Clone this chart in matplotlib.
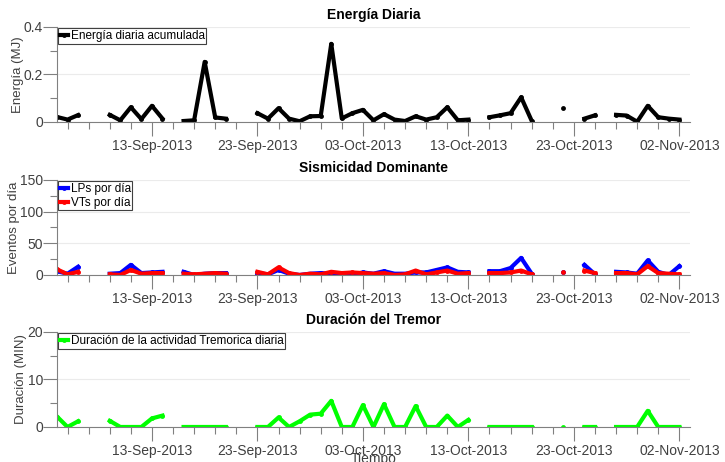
import numpy as np
import pandas as pd
import matplotlib
matplotlib.use("Agg")
import matplotlib.pyplot as plt
import matplotlib.dates as mdates

plt.rcParams["font.family"] = ["Liberation Sans", "DejaVu Sans"]

nan = np.nan

# ------------------------------------------------------------
# Datos diarios (04-Sep-2013 .. 02-Nov-2013)
# ------------------------------------------------------------
dias = pd.date_range("2013-09-04", "2013-11-02", freq="D")

energia = [
    0.021, 0.010, 0.029, nan, nan, 0.030, 0.007, 0.062, 0.012, 0.068,
    0.014, nan, 0.004, 0.007, 0.253, 0.019, 0.014, nan, nan, 0.037,
    0.014, 0.058, 0.014, 0.003, 0.024, 0.025, 0.329, 0.015, 0.037, 0.051,
    0.007, 0.033, 0.010, 0.004, 0.024, 0.010, 0.020, 0.062, 0.007, 0.010,
    nan, 0.020, 0.028, 0.037, 0.104, 0.005, nan, nan, 0.060, nan,
    0.014, 0.028, nan, 0.030, 0.027, 0.001, 0.068, 0.020, 0.014, 0.010,
]

lps = [
    6, 2, 13, nan, nan, 2, 3, 16, 3, 4,
    5, nan, 5, 0, 2, 3, 3, nan, nan, 3,
    1, 8, 2, 0, 2, 3, 2, 3, 0, 4,
    2, 6, 2, 2, 4, 4, 8, 12, 5, 4,
    nan, 6, 6, 11, 27, 2, nan, nan, 4, nan,
    16, 1, nan, 5, 4, 2, 23, 5, 0, 14,
]

vts = [
    9, 1, 5, nan, nan, 1, 0, 8, 2, 3,
    3, nan, 2, 1, 2, 3, 2, nan, nan, 5,
    1, 12, 3, 0, 2, 1, 5, 3, 4, 3,
    2, 3, 0, 1, 7, 1, 4, 7, 2, 3,
    nan, 3, 3, 4, 7, 1, nan, nan, 5, nan,
    7, 3, nan, 3, 3, 1, 14, 3, 2, 1,
]

duracion = [
    2.2, 0, 1.2, nan, nan, 1.3, 0, 0, 0, 1.8,
    2.4, nan, 0, 0, 0, 0, 0, nan, nan, 0,
    0, 2.0, 0, 1.2, 2.6, 2.8, 5.5, 0, 0, 4.6,
    0, 4.8, 0, 0, 4.4, 0, 0, 2.4, 0, 1.5,
    nan, 0, 0, 0, 0, 0, nan, nan, 0, nan,
    0, 0, nan, 0, 0, 0, 3.4, 0, 0, 0,
]

ticks_mayores = pd.date_range("2013-09-13", "2013-11-02", freq="10D")
ticks_menores = pd.date_range("2013-09-05", "2013-11-02", freq="2D")

GRIS = "#808080"
TXT = "#404040"

fig = plt.figure(figsize=(7.25, 4.62), dpi=100)

left, width, height = 0.0786, 0.873, 0.2056
ax1 = fig.add_axes([left, 0.736, width, height])
ax2 = fig.add_axes([left, 0.4048, width, height])
ax3 = fig.add_axes([left, 0.0758, width, height])

estilo = dict(linewidth=3, marker="o", markersize=3.5, markeredgewidth=0)

ax1.plot(dias, energia, color="black", label="Energía diaria acumulada", **estilo)
ax2.plot(dias, lps, color="blue", label="LPs por día", **estilo)
ax2.plot(dias, vts, color="red", label="VTs por día", **estilo)
ax3.plot(dias, duracion, color=(0, 1, 0), label="Duración de la actividad Tremorica diaria", **estilo)


def formato(ax, titulo, ylabel, ylim, yticks, yminor):
    ax.set_xlim(pd.Timestamp("2013-09-04"), pd.Timestamp("2013-11-03"))
    ax.set_ylim(*ylim)
    ax.set_yticks(yticks)
    ax.set_yticks(yminor, minor=True)
    ax.set_xticks(ticks_mayores)
    ax.set_xticks(ticks_menores, minor=True)
    ax.xaxis.set_major_formatter(mdates.DateFormatter("%d-%b-%Y"))
    ax.set_title(titulo, fontsize=10, fontweight="bold", pad=6)
    ax.set_ylabel(ylabel, fontsize=9.5, color=TXT, labelpad=0)
    for s in ["top", "right"]:
        ax.spines[s].set_visible(False)
    for s in ["left", "bottom"]:
        ax.spines[s].set_color(GRIS)
    ax.tick_params(which="major", length=10, width=0.8, color=GRIS,
                   labelcolor=TXT, labelsize=10, pad=2)
    ax.tick_params(axis="y", which="major", pad=0)
    ax.tick_params(which="minor", length=5, width=0.8, color=GRIS)
    ax.grid(True, axis="y", which="major", color="#ebebeb", linewidth=0.8)
    ax.set_axisbelow(True)
    leg = ax.legend(loc="upper left", fontsize=8.5, handlelength=0.7,
                    handletextpad=0.2, borderpad=0.15, labelspacing=0.15,
                    borderaxespad=0.1, fancybox=False, framealpha=1)
    leg.get_frame().set_edgecolor("#404040")
    leg.get_frame().set_linewidth(0.8)


formato(ax1, "Energía Diaria", "Energía (MJ)", (0, 0.4), [0, 0.2, 0.4], [0.1, 0.3])
formato(ax2, "Sismicidad Dominante", "Eventos por día", (0, 150), [0, 50, 100, 150], [25, 75, 125])
formato(ax3, "Duración del Tremor", "Duración (MIN)", (0, 20), [0, 10, 20], [5, 15])

ax1.yaxis.set_major_formatter(matplotlib.ticker.FuncFormatter(lambda v, p: "0" if v == 0 else f"{v:.1f}"))
ax3.set_xlabel("Tiempo", fontsize=10, color=TXT, labelpad=-4)

fig.savefig("out.png", dpi=100)
